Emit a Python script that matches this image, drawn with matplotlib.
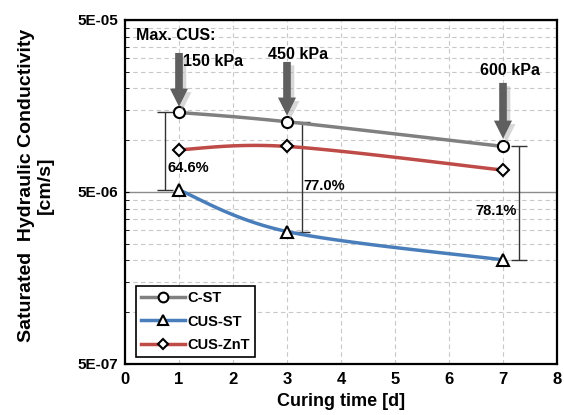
import numpy as np
import matplotlib
matplotlib.use("Agg")
import matplotlib.pyplot as plt
from matplotlib.ticker import FixedLocator, NullFormatter
import matplotlib.patheffects as pe

plt.rcParams['font.family'] = ['Liberation Sans', 'DejaVu Sans']
plt.rcParams['font.weight'] = 'bold'

curing_days = [1, 3, 7]
k_cst = [1.45e-5, 1.28e-5, 9.2e-6]
reduction_pct = [64.6, 77.0, 78.1]
k_cus_st = [k * (1 - r / 100) for k, r in zip(k_cst, reduction_pct)]
k_cus_znt = [8.8e-6, 9.2e-6, 6.7e-6]
max_cus = ['150 kPa', '450 kPa', '600 kPa']


def smooth(x, y, n=40):
    # bezier smoothing between points, done in log space for the y axis
    x = np.asarray(x, float)
    ly = np.log10(y)
    p = np.column_stack([x, ly])
    pts = []
    for i in range(len(p) - 1):
        p0 = p[i - 1] if i > 0 else p[i]
        p3 = p[i + 2] if i + 2 < len(p) else p[i + 1]
        c1 = p[i] + (p[i + 1] - p0) / 6
        c2 = p[i + 1] - (p3 - p[i]) / 6
        t = np.linspace(0, 1, n)[:, None]
        seg = ((1 - t) ** 3 * p[i] + 3 * (1 - t) ** 2 * t * c1
               + 3 * (1 - t) * t ** 2 * c2 + t ** 3 * p[i + 1])
        pts.append(seg if i == 0 else seg[1:])
    pts = np.vstack(pts)
    return pts[:, 0], 10 ** pts[:, 1]


fig = plt.figure(figsize=(5.64, 4.15), dpi=100)
ax = fig.add_axes([0.2216, 0.1229, 0.766, 0.829])

ax.set_yscale('log')
ax.set_xlim(0, 8)
ax.set_ylim(5e-7, 5e-5)

# grid
minor = [5e-7 * k for k in range(2, 10)] + [5e-6 * k for k in range(2, 10)]
ax.yaxis.set_major_locator(FixedLocator([5e-7, 5e-6, 5e-5]))
ax.yaxis.set_minor_locator(FixedLocator(minor))
ax.yaxis.set_minor_formatter(NullFormatter())
ax.set_yticklabels(['5E-07', '5E-06', '5E-05'], fontsize=11, fontweight='bold')
ax.set_xticks(range(0, 9))
ax.set_xticklabels([str(i) for i in range(0, 9)], fontsize=12, fontweight='bold')
ax.grid(True, which='minor', axis='y', color='#c8c8c8', lw=0.8, ls=(0, (4, 3)))
ax.grid(True, which='major', axis='x', color='#c8c8c8', lw=0.8, ls=(0, (4, 3)))
ax.grid(True, which='major', axis='y', color='#8c8c8c', lw=1.0)
ax.set_axisbelow(True)
ax.tick_params(axis='x', length=0, pad=6)
ax.tick_params(axis='y', which='both', direction='in', length=3, pad=5)
for s in ax.spines.values():
    s.set_linewidth(1.6)

series = [
    ('C-ST', k_cst, '#808080', 'o'),
    ('CUS-ST', k_cus_st, '#4a7ebb', '^'),
    ('CUS-ZnT', k_cus_znt, '#be4b48', 'D'),
]
for name, vals, col, mk in series:
    sx, sy = smooth(curing_days, vals)
    ax.plot(sx, sy, color=col, lw=2.5, zorder=3)
    ax.plot(curing_days, vals, ls='none', marker=mk, ms=8 if mk != 'D' else 6,
            mfc='white', mec='black', mew=1.5, zorder=4)
    ax.plot([], [], color=col, lw=2.5, marker=mk, ms=7 if mk != 'D' else 5,
            mfc='white', mec='black', mew=1.5, label=name)

# reduction brackets between C-ST and CUS-ST
offsets = [-0.25, 0.28, 0.3]
label_pos = [(0.79, 0.571), (3.31, 0.516), (6.49, 0.446)]
for x, top, bot, r, dx, (lx, ly) in zip(curing_days, k_cst, k_cus_st,
                                         reduction_pct, offsets, label_pos):
    ax.errorbar(x + dx, top, yerr=[[top - bot], [0]], fmt='none',
                ecolor='#333333', elinewidth=1, capsize=6, capthick=1, zorder=2)
    ax.text(lx, ly, f'{r:.1f}%', transform=ax.get_xaxis_transform(),
            fontsize=10.5, fontweight='bold', ha='left', va='center', zorder=5)

# arrows for maximum curing stress
trans = ax.get_xaxis_transform()
arrow_y = [(0.904, 0.748), (0.878, 0.722), (0.817, 0.655)]
text_pos = [(1.08, 0.88, 'left'), (3.2, 0.9, 'center'), (7.13, 0.852, 'center')]
for x, (y0, y1), lab, (tx, ty, ha) in zip(curing_days, arrow_y, max_cus, text_pos):
    ax.annotate('', xy=(x, y1), xycoords=trans, xytext=(x, y0), textcoords=trans,
                arrowprops=dict(arrowstyle='simple,head_length=1.3,head_width=1.3,tail_width=0.55',
                                mutation_scale=10, color='#5f5f5f', lw=0,
                                shrinkA=0, shrinkB=0,
                                path_effects=[pe.withSimplePatchShadow(offset=(2.5, -2.5),
                                                                       shadow_rgbFace='#b0b0b0',
                                                                       alpha=0.5)]),
                zorder=5)
    ax.text(tx, ty, lab, transform=trans, fontsize=11.5, fontweight='bold',
            ha=ha, va='center', zorder=6)

ax.text(0.025, 0.955, 'Max. CUS:', transform=ax.transAxes, fontsize=11.5,
        fontweight='bold', ha='left', va='center', zorder=6)

leg = ax.legend(loc='lower left', bbox_to_anchor=(0.025, 0.02), borderaxespad=0,
                frameon=True, fancybox=False, edgecolor='black', framealpha=1,
                handlelength=3.0, handletextpad=0.2, borderpad=0.35,
                labelspacing=0.65, prop={'weight': 'bold', 'size': 10.5})
leg.get_frame().set_linewidth(1.2)

ax.set_xlabel('Curing time [d]', fontsize=13, fontweight='bold', labelpad=4)
ax.set_ylabel('Saturated  Hydraulic Conductivity\n[cm/s]', fontsize=14,
              fontweight='bold', labelpad=21, linespacing=1.1)
ax.yaxis.set_label_coords(-0.165, 0.52)

fig.savefig('out.png', dpi=100)
